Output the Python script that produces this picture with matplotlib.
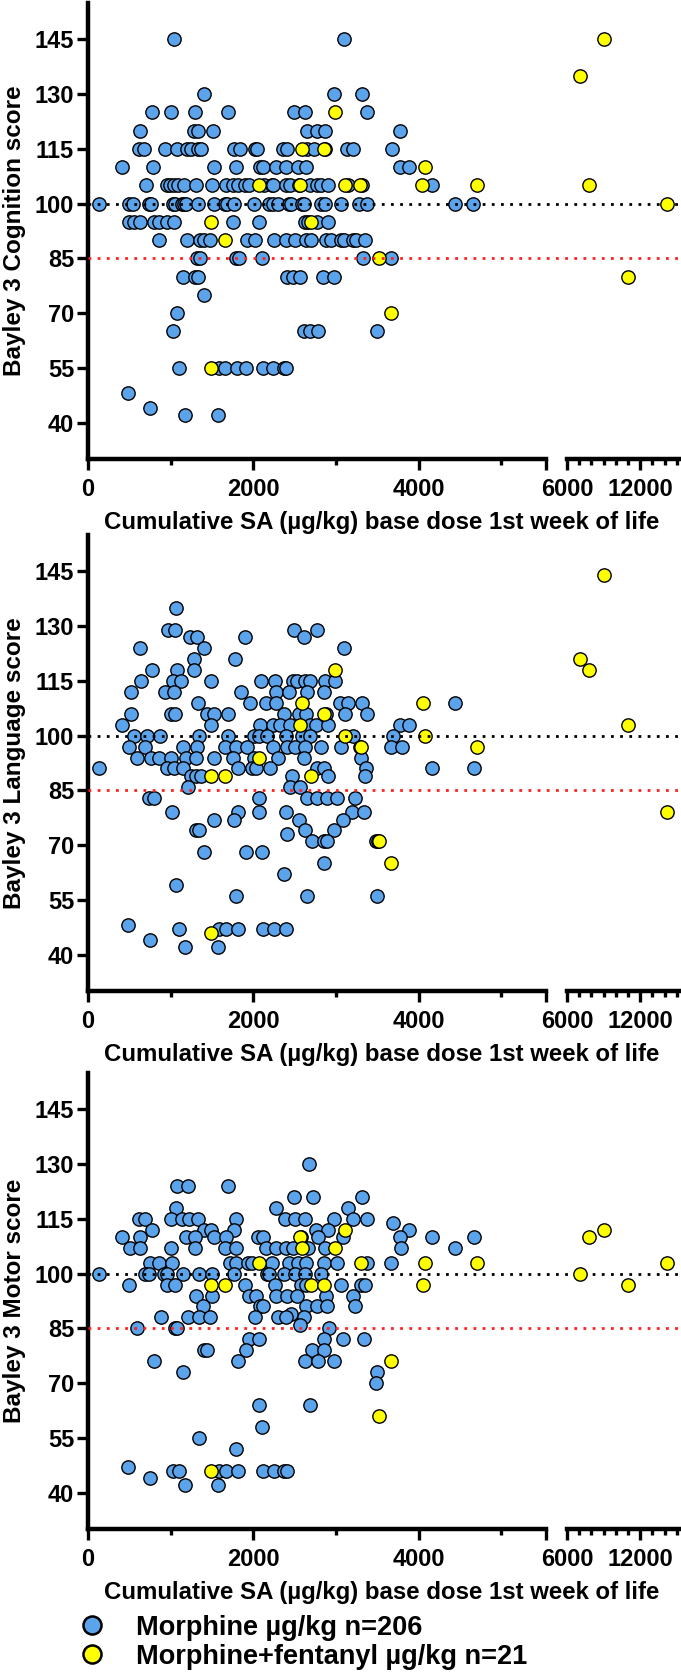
import numpy as np
import matplotlib.pyplot as plt
from matplotlib.lines import Line2D

plt.rcParams['font.family'] = ['Liberation Sans', 'DejaVu Sans']
plt.rcParams['font.weight'] = 'bold'

# doses (ug/kg) grouped by score
cog_blue = {
    145: [1045, 3098],
    130: [1409, 2976, 3314],
    125: [776, 1008, 1293, 1699, 2486, 2628, 3372],
    120: [628, 1282, 1330, 1509, 2654, 2776, 2865, 3778],
    115: [617, 681, 929, 1082, 1203, 1240, 1335, 1361, 1768, 1836, 2021, 2042, 2359, 2406, 2644, 2729, 2870, 3129, 3203, 3683],
    110: [412, 792, 1525, 1794, 2084, 2116, 2274, 2401, 2538, 2633, 3773, 3879],
    105: [707, 950, 992, 1045, 1092, 1156, 1309, 1499, 1668, 1752, 1815, 1900, 1953, 2132, 2222, 2243, 2401, 2438, 2549, 2681, 2776, 2823, 2908, 3140, 3319, 4164],
    100: [132, 501, 544, 739, 765, 1029, 1056, 1135, 1161, 1187, 1335, 1530, 1652, 1678, 1768, 2005, 2190, 2243, 2295, 2427, 2454, 2586, 2612, 2823, 2865, 3061, 3272, 3377, 4443, 4660],
    95: [491, 554, 623, 802, 855, 950, 1040, 1752, 2074, 2623, 2665, 2770, 2902],
    90: [860, 1203, 1356, 1398, 1478, 1926, 2021, 2253, 2401, 2507, 2638, 2702, 2876, 2939, 3061, 3098, 3203, 3245, 3351],
    85: [1319, 1356, 1794, 1821, 2100, 3330, 3667],
    80: [1145, 1293, 1330, 2412, 2480, 2560, 2839, 2971],
    75: [1409],
    70: [1071],
    65: [1029, 2612, 2691, 2786, 3493],
    55: [1098, 1583, 1662, 1805, 1910, 2121, 2243, 2375, 2401],
    48: [485],
    44: [755],
    42: [1177, 1567],
}
cog_yellow = {
    145: [9071], 135: [7059], 125: [2987], 115: [2586, 2850], 110: [4079],
    105: [2074, 2570, 3114, 3293, 4037, 4707, 7765], 100: [14190],
    95: [1488, 2702], 90: [1657], 85: [3525], 80: [11012], 70: [3667], 55: [1488],
}

lang_blue = {
    135: [1066],
    129: [966, 1055, 2486, 2776],
    127: [1230, 1319, 1900, 2617],
    124: [623, 1409, 3098],
    121: [1288, 1773],
    118: [776, 1082, 1282],
    115: [644, 1029, 1124, 1488, 2095, 2259, 2480, 2528, 2628, 2681, 2865, 2982],
    112: [517, 929, 1045, 1847, 2280, 2433, 2644, 2850],
    109: [1335, 1963, 2153, 2274, 3045, 3140, 3314, 4443],
    106: [522, 1003, 1055, 1435, 1530, 1699, 2375, 2549, 2638, 2876, 3103, 3377],
    103: [412, 1493, 2084, 2232, 2322, 2443, 2681, 2760, 2908, 3773, 3879],
    100: [554, 712, 871, 1346, 1689, 2005, 2074, 2164, 2401, 2586, 2691, 3203, 3694],
    97: [491, 686, 1150, 1319, 1652, 1794, 1926, 2243, 2412, 2507, 2628, 2813, 3061, 3288, 3667, 3799],
    94: [591, 765, 855, 1003, 1187, 1309, 1530, 1752, 2005, 2295, 2612, 3298],
    91: [132, 950, 1045, 1150, 1810, 1989, 2032, 2200, 2770, 2850, 3367, 4158, 4670],
    89: [1240, 1309, 1372, 2464, 2908, 3351],
    86: [1214, 2443, 2560],
    83: [739, 802, 2074, 2649, 2770, 2887, 3008, 3235],
    79: [1018, 1820, 2074, 2390, 3193, 3340],
    77: [1525, 1768, 2549, 3087],
    74: [1303, 1346, 2623, 2971],
    73: [2412],
    71: [2707, 2850, 2887, 3483, 3509],
    68: [1409, 1915, 2100],
    65: [2850],
    62: [2375],
    59: [1066],
    56: [1794, 2654, 3498],
    48: [485],
    47: [1098, 1583, 1673, 1820, 2121, 2253, 2401],
    44: [755],
    42: [1177, 1567],
}
lang_yellow = {
    144: [9071], 121: [7059], 118: [2987, 7765], 109: [2586, 4047], 106: [2855],
    103: [2570, 11012], 100: [3114, 4079], 97: [3298, 4707], 94: [2074],
    89: [1488, 1657, 2702], 79: [14190], 71: [3525], 65: [3667], 46: [1493],
}

motor_blue = {
    130: [2675],
    124: [1071, 1214, 1699],
    121: [2486, 2718, 3314],
    118: [1066, 2280, 3140],
    115: [617, 686, 1008, 1135, 1224, 1335, 1794, 2385, 2507, 2628, 2971, 3203, 3377],
    114: [3694],
    112: [776, 1409, 1493, 1768, 2755, 2902, 3879],
    110: [412, 623, 1187, 1293, 1530, 1673, 2058, 2111, 2575, 2786, 3087, 3773, 4158, 4670],
    107: [512, 633, 1008, 1293, 1662, 1794, 2153, 2280, 2401, 2480, 2665, 2865, 3789, 4443],
    103: [755, 855, 1018, 1715, 1794, 1936, 1989, 2227, 2427, 2544, 2638, 2850, 3008, 3377, 3667],
    100: [132, 686, 739, 923, 950, 1145, 1346, 1504, 1768, 2164, 2190, 2375, 2507, 2628, 2823],
    97: [501, 950, 1055, 1900, 2259, 2575, 2638, 3061, 3298, 3351],
    94: [1309, 1504, 1952, 2032, 2280, 2412, 2533, 2876, 3203],
    91: [1388, 2084, 2111, 2638, 2770, 2887, 3235],
    89: [2454],
    88: [887, 1214, 1346, 1478, 2021, 2295, 2401, 2612],
    86: [2560],
    85: [591, 1055, 1071, 2913],
    82: [1952, 2074, 2850, 3087, 3340],
    79: [1398, 1441, 1915, 2707, 2850],
    76: [802, 1820, 2628, 2786, 2971],
    73: [1145, 3499],
    70: [3483],
    64: [2074, 2691],
    58: [2100],
    55: [1346],
    52: [1794],
    47: [485],
    46: [1029, 1098, 1583, 1673, 1820, 2121, 2253, 2375, 2412],
    44: [755],
    42: [1177, 1567],
}
motor_yellow = {
    112: [3114, 9071], 110: [2570, 7765], 107: [2586, 2987],
    103: [2074, 3298, 4079, 4707, 14190], 100: [7059],
    97: [1488, 1657, 2702, 2850, 4047, 11012], 76: [3667], 61: [3525], 46: [1493],
}

panels = [
    ("Bayley 3 Cognition score", cog_blue, cog_yellow),
    ("Bayley 3 Language score", lang_blue, lang_yellow),
    ("Bayley 3 Motor score", motor_blue, motor_yellow),
]
panel_tops = [3, 535, 1073]  # px from top

BLUE = '#5BA3EB'
YELLOW = '#FFFF00'
W, H = 681, 1678
x_label = "Cumulative SA (\u00b5g/kg) base dose 1st week of life"

fig = plt.figure(figsize=(W / 100, H / 100), dpi=100)


def flat(d):
    xs, ys = [], []
    for score, doses in d.items():
        xs += doses
        ys += [score] * len(doses)
    return np.array(xs, float), np.array(ys, float)


for (ylab, blue, yellow), top in zip(panels, panel_tops):
    hgt = 456
    b = 1 - (top + hgt) / H
    axL = fig.add_axes([88 / W, b, 458 / W, hgt / H])
    axR = fig.add_axes([567 / W, b, 113 / W, hgt / H])
    axL.set_xlim(0, 5540)
    axR.set_xlim(6000, 15260)
    for ax in (axL, axR):
        ax.set_ylim(30, 155)
        ax.patch.set_visible(False)
        for s in ('top', 'right'):
            ax.spines[s].set_visible(False)
        ax.spines['bottom'].set_linewidth(3.2)
        ax.spines['left'].set_linewidth(3.2)
        ax.tick_params(axis='both', which='major', length=8, width=2.4, labelsize=17, pad=6)
        ax.tick_params(axis='x', which='minor', length=4.5, width=2.4)
    axR.spines['left'].set_visible(False)
    axR.tick_params(axis='y', left=False, labelleft=False)
    axL.set_yticks([40, 55, 70, 85, 100, 115, 130, 145])
    axL.tick_params(axis='y', pad=2)
    axL.set_xticks([0, 2000, 4000, 5540])
    axL.set_xticklabels(['0', '2000', '4000', ''])
    axL.set_xticks([1000, 3000, 5000], minor=True)
    axR.set_xticks([6000, 12000])
    axR.set_xticklabels(['6000', '12000'])
    axR.set_xticks([7000, 8000, 9000, 10000, 11000, 13000, 14000, 15000], minor=True)
    for lab in axL.get_xticklabels() + axL.get_yticklabels() + axR.get_xticklabels():
        lab.set_fontweight('bold')

    for d, col in ((blue, BLUE), (yellow, YELLOW)):
        xs, ys = flat(d)
        left = xs < 6000
        axL.scatter(xs[left], ys[left], s=92, c=col, edgecolors='black', linewidths=1.0, zorder=3, clip_on=False)
        axR.scatter(xs[~left], ys[~left], s=92, c=col, edgecolors='black', linewidths=1.0, zorder=3, clip_on=False)

    xmax = (680 - 88) / 458
    axL.axhline(100, xmin=0, xmax=xmax, color='black', ls=(0, (1, 2.3)), lw=2.0, clip_on=False, zorder=4)
    axL.axhline(85, xmin=0, xmax=xmax, color='#FF2020', ls=(0, (1, 2.3)), lw=2.0, clip_on=False, zorder=4)

    fig.text(382 / W, 1 - (top + hgt + 64) / H, x_label, ha='center', va='center', fontsize=17.3, fontweight='bold')
    fig.text(15 / W, 1 - (top + hgt / 2) / H, ylab, ha='center', va='center', rotation=90, fontsize=17.5, fontweight='bold')

handles = [
    Line2D([0], [0], marker='o', ls='none', markersize=13, markerfacecolor=BLUE, markeredgecolor='black', markeredgewidth=1.8),
    Line2D([0], [0], marker='o', ls='none', markersize=13, markerfacecolor=YELLOW, markeredgecolor='black', markeredgewidth=1.8),
]
fig.legend(handles, ["Morphine \u00b5g/kg n=206", "Morphine+fentanyl \u00b5g/kg n=21"],
           loc='upper left', bbox_to_anchor=(68 / W, 1 - 1604 / H), frameon=False,
           prop={'size': 19.5, 'weight': 'bold'}, handletextpad=1.1, labelspacing=0.1,
           borderaxespad=0, handlelength=1.0)

fig.savefig('out.png', dpi=100)
